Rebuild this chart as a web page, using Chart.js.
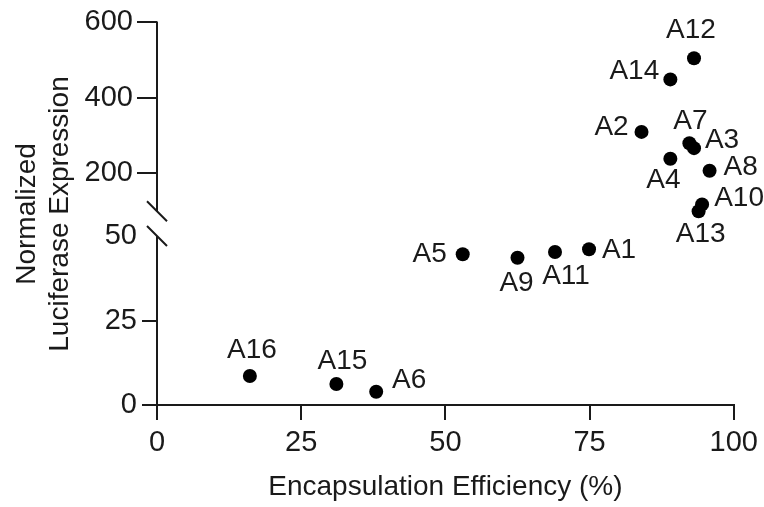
<!DOCTYPE html>
<html>
<head>
<meta charset="utf-8">
<script src="https://cdn.jsdelivr.net/npm/chart.js@4.4.0/dist/chart.umd.min.js"></script>
<style>
  html, body { margin: 0; padding: 0; background: #fff; }
  #wrap { width: 764px; height: 507px; }
</style>
</head>
<body>
<div id="wrap"><canvas id="chart"></canvas></div>
<script>
const names = ['A1', 'A2', 'A3', 'A4', 'A5', 'A6', 'A7', 'A8',
    'A9', 'A10', 'A11', 'A12', 'A13', 'A14', 'A15', 'A16'];
const efficiency = [74.9, 84.0, 93.1, 89.0, 53.0, 38.0, 92.3, 95.8,
    62.5, 94.5, 69.0, 93.1, 93.9, 89.0, 31.1, 16.1];
const expression = [46.1, 310, 267, 239, 44.6, 3.9, 280, 207,
    43.6, 118, 45.3, 505, 100, 449, 6.2, 8.6];
const xTicks = [0, 25, 50, 75, 100];
const upperTicks = [200, 400, 600];
const lowerTicks = [0, 25, 50];
const breakLow = 50;
const breakHigh = 100;

// label placement around each dot (dx, dy in px)
const labelOffset = {
    A1: [30, 0], A2: [-30, -6], A3: [28, -9], A4: [-7, 21], A5: [-33, -1],
    A6: [33, -13], A7: [1, -23], A8: [31, -5], A9: [-1, 25], A10: [37, -7],
    A11: [11, 23], A12: [-3, -29], A13: [2, 22], A14: [-36, -9], A15: [6, -24],
    A16: [2, -27]
};

const ink = '#1a1a1a';
const fontFamily = '"Liberation Sans", Arial, Helvetica, sans-serif';

const upperPts = [], lowerPts = [];
names.forEach((n, i) => {
    const p = { x: efficiency[i], y: expression[i], name: n };
    if (expression[i] > breakLow) upperPts.push(p); else lowerPts.push(p);
});

const brokenAxis = {
    id: 'brokenAxis',
    afterDraw(chart) {
        const ctx = chart.ctx;
        const yTop = chart.scales.yTop, yLow = chart.scales.yLow, x = chart.scales.x;
        const ax = x.getPixelForValue(0);
        const yHi = yTop.getPixelForValue(breakHigh);
        const yLo = yLow.getPixelForValue(breakLow);
        ctx.save();
        ctx.strokeStyle = ink;
        ctx.lineWidth = 2;
        ctx.beginPath();
        ctx.moveTo(ax, yTop.getPixelForValue(600) - 1);
        ctx.lineTo(ax, yHi);
        ctx.moveTo(ax, yLo);
        ctx.lineTo(ax, yLow.getPixelForValue(0) + 15);
        [yHi, yLo].forEach(y => {
            ctx.moveTo(ax - 10, y - 10);
            ctx.lineTo(ax + 10, y + 10);
        });
        ctx.stroke();

        // point labels
        ctx.fillStyle = ink;
        ctx.font = '28px ' + fontFamily;
        ctx.textAlign = 'center';
        ctx.textBaseline = 'middle';
        chart.data.datasets.forEach((ds, di) => {
            chart.getDatasetMeta(di).data.forEach((el, i) => {
                const name = ds.data[i].name;
                const off = labelOffset[name] || [0, -25];
                ctx.fillText(name, el.x + off[0], el.y + off[1] + 1);
            });
        });

        // y title
        ctx.font = '28px ' + fontFamily;
        ctx.textBaseline = 'alphabetic';
        const cy = 214;
        [['Normalized', 35], ['Luciferase Expression', 68]].forEach(([t, bx]) => {
            ctx.save();
            ctx.translate(bx, cy);
            ctx.rotate(-Math.PI / 2);
            ctx.fillText(t, 0, 0);
            ctx.restore();
        });
        ctx.restore();
    }
};

const tickFont = { family: fontFamily, size: 29 };

new Chart(document.getElementById('chart'), {
    type: 'scatter',
    data: {
        datasets: [{
            data: upperPts,
            yAxisID: 'yTop',
            backgroundColor: '#000',
            borderWidth: 0,
            pointRadius: 7,
            pointHoverRadius: 7,
            clip: false
        }, {
            data: lowerPts,
            yAxisID: 'yLow',
            backgroundColor: '#000',
            borderWidth: 0,
            pointRadius: 7,
            pointHoverRadius: 7,
            clip: false
        }]
    },
    options: {
        responsive: true,
        maintainAspectRatio: false,
        animation: false,
        layout: { padding: { top: 20, right: 29, bottom: 0, left: 0 } },
        plugins: { legend: { display: false }, tooltip: { enabled: false } },
        scales: {
            x: {
                type: 'linear',
                min: 0,
                max: 100,
                afterBuildTicks: s => { s.ticks = xTicks.map(v => ({ value: v })); },
                afterFit: s => { s.height = 102; },
                grid: { drawOnChartArea: false, tickLength: 15, color: ink, lineWidth: 2 },
                border: { display: true, color: ink, width: 2 },
                ticks: { font: tickFont, color: ink, padding: 6, maxRotation: 0 },
                title: {
                    display: true,
                    text: 'Encapsulation Efficiency (%)',
                    font: { family: fontFamily, size: 28 },
                    color: ink,
                    padding: { top: 0, bottom: 3 }
                }
            },
            yLow: {
                type: 'linear',
                position: 'left',
                stack: 'y',
                stackWeight: 182.5,
                min: 0,
                max: 53.68,
                afterBuildTicks: s => { s.ticks = lowerTicks.map(v => ({ value: v })); },
                afterFit: s => { s.width = 157; },
                grid: {
                    drawOnChartArea: false,
                    tickLength: 15,
                    lineWidth: 2,
                    color: c => (c.tick && c.tick.value === breakLow) ? 'rgba(0,0,0,0)' : ink
                },
                border: { display: false },
                ticks: { font: tickFont, color: ink, padding: 5 }
            },
            yTop: {
                type: 'linear',
                position: 'left',
                stack: 'y',
                stackWeight: 202.5,
                min: 67.1,
                max: 600,
                afterBuildTicks: s => { s.ticks = upperTicks.map(v => ({ value: v })); },
                afterFit: s => { s.width = 157; },
                grid: { drawOnChartArea: false, tickLength: 20, color: ink, lineWidth: 2 },
                border: { display: false },
                ticks: { font: tickFont, color: ink, padding: 4 }
            }
        }
    },
    plugins: [brokenAxis]
});
</script>
</body>
</html>
